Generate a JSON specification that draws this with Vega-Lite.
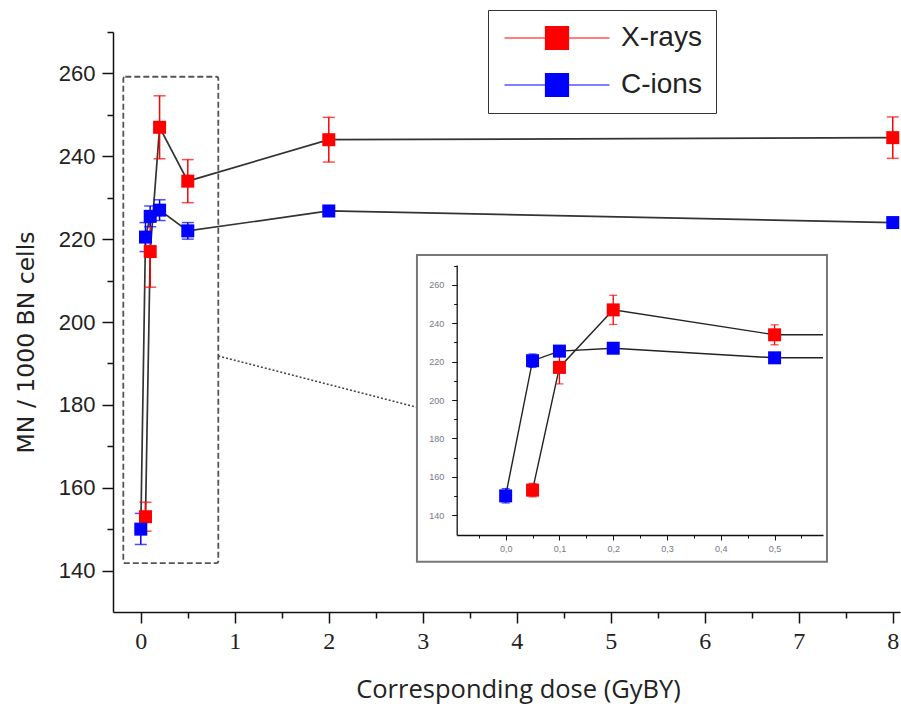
{
  "$schema": "https://vega.github.io/schema/vega-lite/v6.json",
  "width": 787,
  "height": 580,
  "autosize": {"type": "none"},
  "padding": {"left": 113, "top": 32, "right": 1, "bottom": 99},
  "background": "white",
  "config": {"view": {"stroke": null}, "axis": {"grid": false}, "font": "Liberation Sans"},
  "datasets": {
    "pts": [
      {"series": "X-rays", "dose": 0.05, "value": 153.0, "lo": 149.5, "hi": 156.5},
      {"series": "X-rays", "dose": 0.1, "value": 217.0, "lo": 208.4, "hi": 225.6},
      {"series": "X-rays", "dose": 0.2, "value": 247.0, "lo": 239.4, "hi": 254.6},
      {"series": "X-rays", "dose": 0.5, "value": 234.0, "lo": 228.8, "hi": 239.2},
      {"series": "X-rays", "dose": 2, "value": 244.0, "lo": 238.6, "hi": 249.4},
      {"series": "X-rays", "dose": 8, "value": 244.5, "lo": 239.5, "hi": 249.5},
      {"series": "C-ions", "dose": 0, "value": 150.0, "lo": 146.3, "hi": 153.8},
      {"series": "C-ions", "dose": 0.05, "value": 220.5, "lo": 217.0, "hi": 224.0},
      {"series": "C-ions", "dose": 0.1, "value": 225.5, "lo": 223.0, "hi": 228.0},
      {"series": "C-ions", "dose": 0.2, "value": 227.0, "lo": 224.5, "hi": 229.5},
      {"series": "C-ions", "dose": 0.5, "value": 222.0, "lo": 220.0, "hi": 224.0},
      {"series": "C-ions", "dose": 2, "value": 226.8, "lo": 226.0, "hi": 227.6},
      {"series": "C-ions", "dose": 8, "value": 224.0, "lo": 223.2, "hi": 224.8}
    ],
    "zoombox": [{"x1": -0.186, "x2": 0.8245, "y1": 259.2, "y2": 141.8}],
    "link": [{"x1": 0.8245, "y1": 191.8, "x2": 2.938, "y2": 179.4}],
    "insetframe": [{"x1": 2.938, "x2": 7.3, "y1": 216.2, "y2": 142.1}]
  },
  "layer": [
    {
      "data": {"name": "zoombox"},
      "mark": {"type": "rect", "fill": null, "stroke": "#555", "strokeWidth": 1.8, "strokeDash": [6, 3], "cornerRadius": 2},
      "encoding": {
        "x": {"field": "x1", "type": "quantitative", "scale": {"domain": [-0.2957, 8.077], "nice": false, "zero": false}, "axis": null},
        "x2": {"field": "x2"},
        "y": {"field": "y1", "type": "quantitative", "scale": {"domain": [130, 270], "nice": false, "zero": false}, "axis": null},
        "y2": {"field": "y2"}
      }
    },
    {
      "data": {"name": "link"},
      "mark": {"type": "rule", "stroke": "#444", "strokeWidth": 1.5, "strokeDash": [2, 2]},
      "encoding": {
        "x": {"field": "x1", "type": "quantitative", "scale": {"domain": [-0.2957, 8.077], "nice": false, "zero": false}, "axis": null},
        "x2": {"field": "x2"},
        "y": {"field": "y1", "type": "quantitative", "scale": {"domain": [130, 270], "nice": false, "zero": false}, "axis": null},
        "y2": {"field": "y2"}
      }
    },
    {
      "data": {"name": "pts"},
      "mark": {"type": "line", "stroke": "#333", "strokeWidth": 1.7},
      "encoding": {
        "x": {"field": "dose", "type": "quantitative", "scale": {"domain": [-0.2957, 8.077], "nice": false, "zero": false}, "axis": null},
        "y": {"field": "value", "type": "quantitative", "scale": {"domain": [130, 270], "nice": false, "zero": false}, "axis": null},
        "detail": {"field": "series"}
      }
    },
    {
      "data": {"name": "pts"},
      "mark": {"type": "errorbar", "thickness": 1.5, "ticks": {"size": 12, "thickness": 1.5}},
      "encoding": {
        "x": {"field": "dose", "type": "quantitative", "scale": {"domain": [-0.2957, 8.077], "nice": false, "zero": false}, "axis": null},
        "y": {"field": "lo", "type": "quantitative", "scale": {"domain": [130, 270], "nice": false, "zero": false}, "axis": null},
        "y2": {"field": "hi"},
        "color": {"field": "series", "type": "nominal", "scale": {"domain": ["X-rays", "C-ions"], "range": ["#ff0000", "#0000ff"]}}
      }
    },
    {
      "data": {"name": "pts"},
      "mark": {"type": "point", "shape": "square", "filled": true, "size": 169, "opacity": 1},
      "encoding": {
        "x": {
          "field": "dose", "type": "quantitative",
          "scale": {"domain": [-0.2957, 8.077], "nice": false, "zero": false},
          "axis": {
            "orient": "bottom",
            "values": [0, 1, 2, 3, 4, 5, 6, 7, 8],
            "format": "d",
            "tickSize": 11,
            "tickColor": "#111", "tickWidth": 1.5, "domainColor": "#111", "domainWidth": 1.5,
            "labelFont": "Liberation Sans Narrow", "labelFontSize": 24, "labelColor": "#222", "labelPadding": 6,
            "labelOverlap": false, "labelFlush": false,
            "title": "Corresponding dose (GyBY)", "titleFont": "Open Sans", "titleFontSize": 25.5, "titleFontWeight": "normal",
            "titleColor": "#222", "titleX": 405, "titleY": 85, "titleBaseline": "alphabetic"
          }
        },
        "y": {
          "field": "value", "type": "quantitative",
          "scale": {"domain": [130, 270], "nice": false, "zero": false},
          "axis": {
            "orient": "left",
            "values": [140, 160, 180, 200, 220, 240, 260],
            "format": "d",
            "tickSize": 11,
            "tickColor": "#111", "tickWidth": 1.5, "domainColor": "#111", "domainWidth": 1.5,
            "labelFont": "Liberation Sans", "labelFontSize": 22, "labelColor": "#222", "labelPadding": 7,
            "labelOverlap": false,
            "title": "MN / 1000 BN cells", "titleFont": "DejaVu Sans", "titleFontSize": 23.5, "titleFontWeight": "normal",
            "titleColor": "#222", "titleX": -80, "titleY": 310, "titleBaseline": "alphabetic"
          }
        },
        "color": {
          "field": "series", "type": "nominal",
          "scale": {"domain": ["X-rays", "C-ions"], "range": ["#ff0000", "#0000ff"]},
          "legend": {
            "orient": "none", "legendX": 375, "legendY": -22, "title": null,
            "symbolType": "M-4.565,0H4.565M-1,-1H1V1H-1Z", "symbolSize": 529, "symbolOffset": 41,
            "labelOffset": 50, "labelFont": "Liberation Sans", "labelFontSize": 28, "labelColor": "#222",
            "padding": 14, "rowPadding": 19, "strokeColor": "#333", "fillColor": "white",
            "symbolStrokeWidth": 1.2, "symbolOpacity": 1,
            "encode": {
              "symbols": {"update": {
                "stroke": [{"test": "datum.value === 'C-ions'", "value": "#a0a0ff"}, {"value": "#ff2020"}],
                "fill": {"scale": "color", "field": "value"},
                "opacity": {"value": 1},
                "fillOpacity": {"value": 1},
                "strokeOpacity": {"value": 1}
              }}
            }
          }
        }
      }
    },
    {
      "data": {"name": "pts"},
      "mark": {"type": "point", "opacity": 0},
      "encoding": {
        "x": {
          "field": "dose", "type": "quantitative",
          "scale": {"domain": [-0.2957, 8.077], "nice": false, "zero": false},
          "axis": {"orient": "bottom", "values": [0.5, 1.5, 2.5, 3.5, 4.5, 5.5, 6.5, 7.5], "labels": false, "domain": false, "tickSize": 6, "tickWidth": 1.5, "tickColor": "#111", "title": null}
        },
        "y": {
          "field": "value", "type": "quantitative",
          "scale": {"domain": [130, 270], "nice": false, "zero": false},
          "axis": {"orient": "left", "values": [150, 170, 190, 210, 230, 250, 270], "labels": false, "domain": false, "tickSize": 6, "tickWidth": 1.5, "tickColor": "#111", "title": null}
        }
      }
    },
    {
      "data": {"name": "insetframe"},
      "mark": {"type": "rect", "fill": "white", "stroke": "#777", "strokeWidth": 2},
      "encoding": {
        "x": {"field": "x1", "type": "quantitative", "scale": {"domain": [-0.2957, 8.077], "nice": false, "zero": false}, "axis": null},
        "x2": {"field": "x2"},
        "y": {"field": "y1", "type": "quantitative", "scale": {"domain": [130, 270], "nice": false, "zero": false}, "axis": null},
        "y2": {"field": "y2"}
      }
    },
    {
      "data": {"name": "pts"},
      "transform": [{"filter": "datum.dose <= 0.5"}],
      "mark": {"type": "line", "stroke": "#222", "strokeWidth": 1.4},
      "encoding": {
        "x": {"field": "dose", "type": "quantitative", "scale": {"domain": [-0.091, 0.59], "range": [343.7, 710], "nice": false, "zero": false}, "axis": null},
        "y": {"field": "value", "type": "quantitative", "scale": {"domain": [129.6, 270.4], "range": [503, 233], "nice": false, "zero": false}, "axis": null},
        "detail": {"field": "series"}
      }
    },
    {
      "data": {"name": "pts"},
      "transform": [{"filter": "datum.dose === 0.5"}],
      "mark": {"type": "rule", "stroke": "#222", "strokeWidth": 1.4},
      "encoding": {
        "x": {"field": "dose", "type": "quantitative", "scale": {"domain": [-0.091, 0.59], "range": [343.7, 710], "nice": false, "zero": false}, "axis": null},
        "x2": {"datum": 0.59},
        "y": {"field": "value", "type": "quantitative", "scale": {"domain": [129.6, 270.4], "range": [503, 233], "nice": false, "zero": false}, "axis": null}
      }
    },
    {
      "data": {"name": "pts"},
      "transform": [{"filter": "datum.dose <= 0.5"}],
      "mark": {"type": "errorbar", "thickness": 1.3, "ticks": {"size": 8, "thickness": 1.3}},
      "encoding": {
        "x": {"field": "dose", "type": "quantitative", "scale": {"domain": [-0.091, 0.59], "range": [343.7, 710], "nice": false, "zero": false}, "axis": null},
        "y": {"field": "lo", "type": "quantitative", "scale": {"domain": [129.6, 270.4], "range": [503, 233], "nice": false, "zero": false}, "axis": null},
        "y2": {"field": "hi"},
        "color": {"field": "series", "type": "nominal", "scale": {"domain": ["X-rays", "C-ions"], "range": ["#ff0000", "#0000ff"]}}
      }
    },
    {
      "data": {"name": "pts"},
      "transform": [{"filter": "datum.dose <= 0.5"}],
      "mark": {"type": "point", "shape": "square", "filled": true, "size": 169, "opacity": 1},
      "encoding": {
        "x": {
          "field": "dose", "type": "quantitative",
          "scale": {"domain": [-0.091, 0.59], "range": [343.7, 710], "nice": false, "zero": false},
          "axis": {
            "orient": "bottom", "offset": -77, "zindex": 1,
            "values": [0, 0.1, 0.2, 0.3, 0.4, 0.5],
            "labelExpr": "replace(format(datum.value, '.1f'), '.', ',')",
            "tickSize": 5,
            "tickColor": "#111", "tickWidth": 1, "domainColor": "#111", "domainWidth": 1.3,
            "labelFontSize": 9, "labelColor": "#778", "labelPadding": 4, "labelOverlap": false, "labelFlush": false,
            "title": null
          }
        },
        "y": {
          "field": "value", "type": "quantitative",
          "scale": {"domain": [129.6, 270.4], "range": [503, 233], "nice": false, "zero": false},
          "axis": {
            "orient": "left", "offset": -343.7, "zindex": 1,
            "values": [140, 160, 180, 200, 220, 240, 260],
            "format": "d",
            "tickSize": 5,
            "tickColor": "#111", "tickWidth": 1, "domainColor": "#111", "domainWidth": 1.3,
            "labelFontSize": 9, "labelColor": "#778", "labelPadding": 8, "labelOverlap": false,
            "title": null
          }
        },
        "color": {"field": "series", "type": "nominal", "scale": {"domain": ["X-rays", "C-ions"], "range": ["#ff0000", "#0000ff"]}}
      }
    },
    {
      "data": {"name": "pts"},
      "transform": [{"filter": "datum.dose <= 0.5"}],
      "mark": {"type": "point", "opacity": 0},
      "encoding": {
        "x": {
          "field": "dose", "type": "quantitative",
          "scale": {"domain": [-0.091, 0.59], "range": [343.7, 710], "nice": false, "zero": false},
          "axis": {"orient": "bottom", "offset": -77, "zindex": 1, "values": [-0.05, 0.05, 0.15, 0.25, 0.35, 0.45, 0.55], "labels": false, "domain": false, "tickSize": 3, "tickWidth": 1, "tickColor": "#111", "title": null}
        },
        "y": {
          "field": "value", "type": "quantitative",
          "scale": {"domain": [129.6, 270.4], "range": [503, 233], "nice": false, "zero": false},
          "axis": {"orient": "left", "offset": -343.7, "zindex": 1, "values": [150, 170, 190, 210, 230, 250, 270], "labels": false, "domain": false, "tickSize": 3, "tickWidth": 1, "tickColor": "#111", "title": null}
        }
      }
    }
  ],
  "resolve": {
    "scale": {"x": "independent", "y": "independent"},
    "axis": {"x": "independent", "y": "independent"}
  }
}
